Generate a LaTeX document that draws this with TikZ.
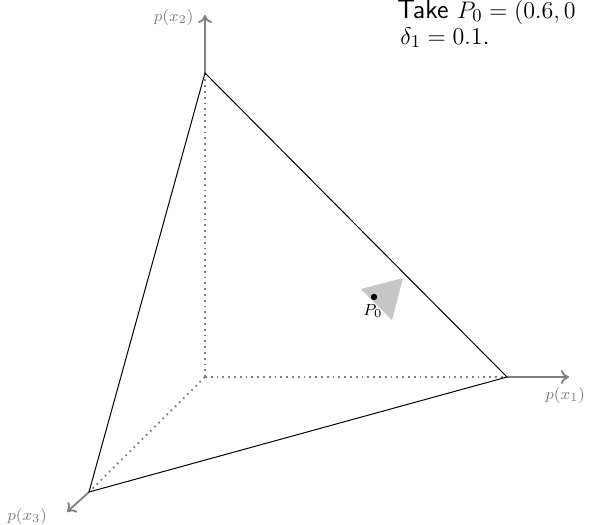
\documentclass[tikz,border=0pt]{standalone}
\usetikzlibrary{arrows.meta}
\begin{document}
\begin{tikzpicture}[x=0.5pt,y=-0.5pt,
  axis/.style={draw=gray, line width=0.9pt, -{To[length=4pt,width=7pt]}},
  axlabel/.style={text=gray, font=\footnotesize, inner sep=0pt},
  edge/.style={draw=black, line width=0.5pt},
  dots/.style={draw=gray, line width=0.9pt, dotted},
  ball/.style={fill=lightgray!90, draw=none},
  note/.style={anchor=base west, inner sep=0pt, font=\fontsize{13.2}{16}\selectfont\sffamily}]
\useasboundingbox (0,0) rectangle (590,525);
\coordinate (O) at (205,377);
\coordinate (v1) at (507,377);
\coordinate (v2) at (205,73);
\coordinate (v3) at (89,492);
\coordinate (e1) at (569,377);
\coordinate (e2) at (205,15);
\coordinate (e3) at (67,512);
\draw[dots] (O) -- (v1);
\draw[dots] (O) -- (v2);
\draw[dots] (O) -- (v3);
\draw[axis] (v1) -- (e1);
\draw[axis] (v2) -- (e2);
\draw[axis] (v3) -- (e3);
\draw[edge] (v1) -- (v2) -- (v3) -- cycle;
\fill[ball] (361,289) -- (403,278) -- (392,320) -- cycle;
\node[circle, fill=black, inner sep=0pt, minimum size=3.2pt] (P) at (374,297) {};
\node[font=\footnotesize, inner sep=0pt, anchor=north] (Pl) at (373,304) {$P_0$};
\node[axlabel, anchor=east] (l2) at (194,17) {$p(x_2)$};
\node[axlabel, anchor=west] (l1) at (545,395) {$p(x_1)$};
\node[axlabel, anchor=west] (l3) at (7,516) {$p(x_3)$};
\node[note] (t1) at (397,18) {Take $P_0 = (0.6, 0$};
\node[note] (t2) at (400,44) {$\delta_1 = 0.1$.};
\end{tikzpicture}
\end{document}
